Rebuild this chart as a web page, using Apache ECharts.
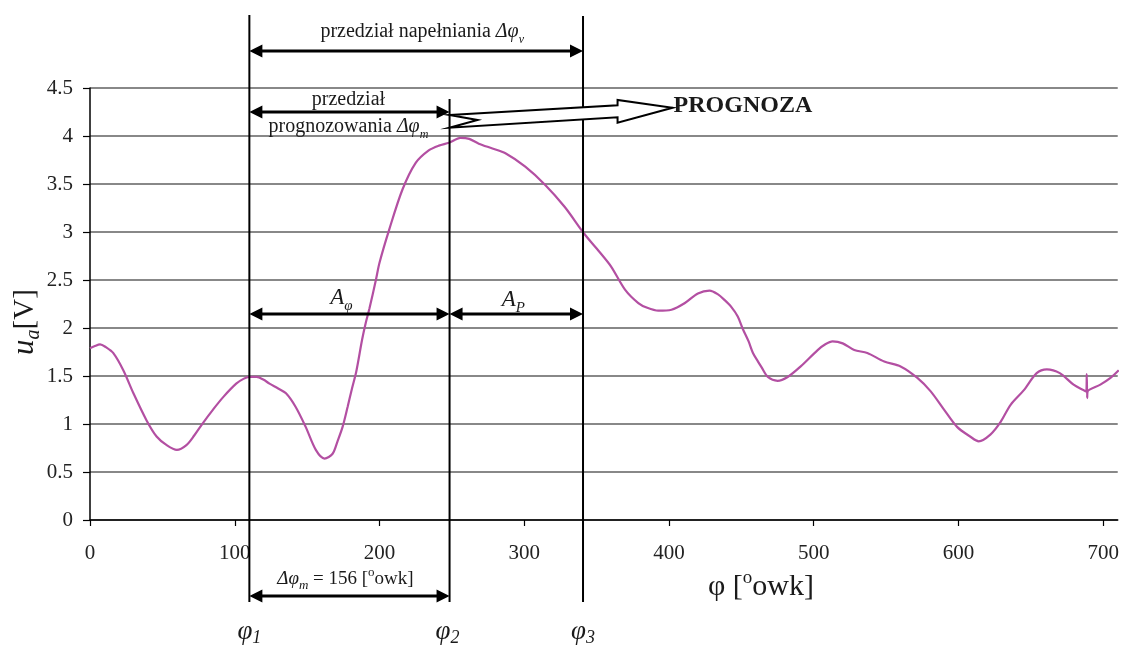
<!DOCTYPE html>
<html>
<head>
<meta charset="utf-8">
<script src="https://cdn.jsdelivr.net/npm/echarts@6/dist/echarts.min.js"></script>
<style>
  html, body { margin: 0; padding: 0; background: #fff; }
  #chart { width: 1122px; height: 646px; }
</style>
</head>
<body>
<div id="chart"></div>
<script>
const phi = [0, 3, 7, 11, 16, 23, 30, 39, 46, 53, 60, 66.6, 72, 78, 85, 92, 101, 106, 110, 115,
  120, 124, 130, 135.4, 142, 149, 156, 162, 167.6, 171, 174.5, 178, 181, 184, 188, 190.6, 193, 197.5, 200, 206.6,
  215.8, 225, 234, 241, 248, 256, 262, 268.6, 278, 287, 300.7, 314.5, 328, 341, 351, 360, 369.6, 378.8, 385, 392.6,
  401.7, 411, 420, 428, 433.9, 438.5, 443, 447.5, 451, 455, 458, 461.5, 464, 468.3, 475, 482, 491, 502.7, 508, 513,
  520, 528, 537, 548.7, 560, 571.6, 580.8, 590, 599, 608, 614, 622, 629, 636, 645, 654, 661, 670, 679.5, 688.3,
  688.6, 688.9, 689.2, 698, 705, 710.7];
const ua = [1.79, 1.81, 1.83, 1.80, 1.74, 1.56, 1.32, 1.04, 0.87, 0.78, 0.73, 0.78, 0.88, 1.01, 1.15, 1.28, 1.42, 1.47, 1.49, 1.49,
  1.46, 1.42, 1.37, 1.32, 1.18, 0.97, 0.73, 0.64, 0.69, 0.82, 0.97, 1.18, 1.37, 1.55, 1.88, 2.06, 2.20, 2.50, 2.68, 3.02,
  3.44, 3.72, 3.85, 3.90, 3.93, 3.98, 3.97, 3.92, 3.87, 3.82, 3.68, 3.49, 3.26, 2.99, 2.81, 2.64, 2.40, 2.26, 2.21, 2.18,
  2.19, 2.26, 2.36, 2.39, 2.35, 2.29, 2.22, 2.12, 1.99, 1.86, 1.74, 1.65, 1.59, 1.49, 1.45, 1.49, 1.60, 1.77, 1.83, 1.86,
  1.84, 1.77, 1.74, 1.65, 1.60, 1.48, 1.34, 1.15, 0.97, 0.87, 0.82, 0.89, 1.02, 1.20, 1.35, 1.53, 1.57, 1.53, 1.41, 1.34,
  1.52, 1.27, 1.34, 1.41, 1.48, 1.56];
const xTicks = [0, 100, 200, 300, 400, 500, 600, 700];
// φ1, φ2, φ3 marker positions
const phiMarks = [110.1, 248.4, 340.6];

const serif = '"Liberation Serif", "Times New Roman", serif';
const ink = '#1a1a1a';

let chart = echarts.init(document.getElementById('chart'));

chart.setOption({
  animation: false,
  grid: { left: 90, right: 0, top: 88, bottom: 126 },
  xAxis: {
    type: 'value',
    min: 0,
    max: 710,
    interval: 100,
    axisLine: { lineStyle: { color: '#000', width: 1.5 } },
    axisTick: { length: 6, customValues: xTicks, lineStyle: { color: '#000', width: 1.2 } },
    axisLabel: {
      margin: 23,
      customValues: xTicks,
      fontFamily: serif,
      fontSize: 21,
      color: '#222',
    },
    splitLine: { show: false },
  },
  yAxis: {
    type: 'value',
    min: 0,
    max: 4.5,
    interval: 0.5,
    axisLine: { show: true, lineStyle: { color: '#000', width: 1.5 } },
    axisTick: { show: true, length: 7, lineStyle: { color: '#000', width: 1.2 } },
    axisLabel: { margin: 17, fontFamily: serif, fontSize: 21, color: '#222' },
    splitLine: { lineStyle: { color: '#606060', width: 1.5 } },
  },
  series: [
    {
      type: 'line',
      data: phi.map((p, i) => [p, ua[i]]),
      showSymbol: false,
      smooth: 0.3,
      lineStyle: { color: '#b34fa2', width: 2.2 },
      z: 3,
    },
  ],
});

// annotations, placed from the φ marker positions
const px = phiMarks.map((v) => chart.convertToPixel({ xAxisIndex: 0 }, v));
const [p1, p2, p3] = px;

function arrow(x1, x2, y) {
  const h = 13, w = 6.5;
  return [
    { type: 'line', shape: { x1: x1 + h - 2, y1: y, x2: x2 - h + 2, y2: y }, style: { stroke: '#000', lineWidth: 3 }, z: 10 },
    { type: 'polygon', shape: { points: [[x1, y], [x1 + h, y - w], [x1 + h, y + w]] }, style: { fill: '#000' }, z: 10 },
    { type: 'polygon', shape: { points: [[x2, y], [x2 - h, y - w], [x2 - h, y + w]] }, style: { fill: '#000' }, z: 10 },
  ];
}

function vline(x, y1, y2) {
  return { type: 'line', shape: { x1: x, y1: y1, x2: x, y2: y2 }, style: { stroke: '#000', lineWidth: 2 }, z: 10 };
}

function label(x, y, text, rich, extra) {
  return Object.assign({
    type: 'text',
    x: x,
    y: y,
    z: 11,
    style: { text: text, rich: rich, align: 'center', verticalAlign: 'middle', fill: ink, fontFamily: serif },
  }, extra || {});
}

function richSet(size, subSize, lh) {
  return {
    t: { fontFamily: serif, fontSize: size, fill: ink, lineHeight: lh },
    i: { fontFamily: serif, fontSize: size, fontStyle: 'italic', fill: ink, lineHeight: lh },
    s: { fontFamily: serif, fontSize: subSize, fontStyle: 'italic', fill: ink, lineHeight: subSize, verticalAlign: 'bottom' },
    o: { fontFamily: serif, fontSize: subSize, fill: ink, lineHeight: subSize, verticalAlign: 'top' },
  };
}

const r20 = richSet(20, 12, 27);
const rA = richSet(23, 15, 32);
const rPhi = richSet(27, 18, 30);
const r19 = richSet(19, 13, 26);
const rAx = richSet(30, 19, 36);
const rY = {
  i: { fontFamily: serif, fontSize: 31, fontStyle: 'italic', fill: ink, lineHeight: 38 },
  s: { fontFamily: serif, fontSize: 20, fontStyle: 'italic', fill: ink, lineHeight: 20, verticalAlign: 'bottom' },
  t: { fontFamily: serif, fontSize: 29, fill: ink, lineHeight: 38 },
};

const hollow = [[0, 115], [168, 105.3], [168, 100], [223, 107.7], [168, 122.7], [168, 117.3], [0, 127.7], [28, 120]]
  .map((q) => [p2 + q[0], q[1]]);

const graphics = [].concat(
  vline(p1, 15, 602),
  vline(p2, 99, 602),
  vline(p3, 16, 602),
  arrow(p1, p3, 51),
  arrow(p1, p2, 112),
  arrow(p1, p2, 314),
  arrow(p2, p3, 314),
  arrow(p1, p2, 596),
  [
    { type: 'polygon', shape: { points: hollow }, style: { fill: '#fff', stroke: '#000', lineWidth: 2 }, z: 10 },
    label((p1 + p3) / 2 + 6, 32, '{t|przedział napełniania }{i|Δφ}{s|v}', r20),
    label((p1 + p2) / 2 - 1, 100, '{t|przedział}', r20),
    label((p1 + p2) / 2 - 1, 127, '{t|prognozowania }{i|Δφ}{s|m}', r20),
    {
      type: 'text', x: p2 + 224, y: 106, z: 11,
      style: { text: 'PROGNOZA', fontFamily: serif, fontSize: 24, fontWeight: 'bold', fill: ink, align: 'left', verticalAlign: 'middle' },
    },
    label((p1 + p2) / 2 - 8, 298, '{i|A}{s|φ}', rA),
    label((p2 + p3) / 2 - 3, 300, '{i|A}{s|P}', rA),
    label((p1 + p2) / 2 - 4, 579, '{i|Δφ}{s|m}{t| = 156 [}{o|o}{t|owk]}', r19),
    label(p1, 632, '{i|φ}{s|1}', rPhi),
    label(p2 - 2, 632, '{i|φ}{s|2}', rPhi),
    label(p3, 632, '{i|φ}{s|3}', rPhi),
    label(761, 587, '{t|φ [}{o|o}{t|owk]}', rAx),
    label(25, 322, '{i|u}{s|a}{t|[V]}', rY, { rotation: Math.PI / 2 }),
  ]
);

chart.setOption({ graphic: { elements: graphics } });

window.onresize = function () {
  chart.resize();
};
</script>
</body>
</html>
